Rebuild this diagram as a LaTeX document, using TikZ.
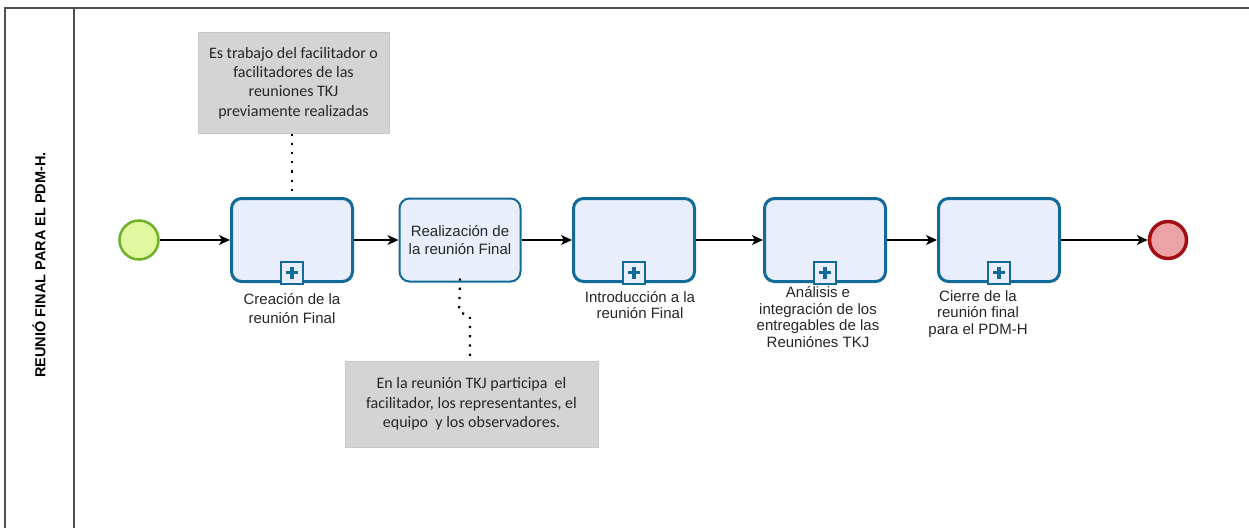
\documentclass[tikz,border=0pt]{standalone}
\usepackage{fontspec}
\setmainfont{Liberation Sans}
\newfontfamily\annfont{Carlito}
\usetikzlibrary{arrows.meta}
\definecolor{taskborder}{HTML}{126A98}
\definecolor{taskfill}{HTML}{E9EEFC}
\definecolor{startborder}{HTML}{6FB024}
\definecolor{startfill}{HTML}{E1F7A0}
\definecolor{endborder}{HTML}{A30E12}
\definecolor{endfill}{HTML}{EBA3A6}
\definecolor{annfill}{HTML}{D4D4D4}
\definecolor{annborder}{HTML}{C8C8C8}
\definecolor{poolline}{HTML}{505050}
\tikzset{
  taskbox/.style={draw=taskborder, fill=taskfill, line width=3pt, rounded corners=10pt,
    minimum width=121pt, minimum height=83pt, inner sep=0pt, align=center,
    font=\fontsize{15}{18.5}\selectfont, text=black!85},
  taskthin/.style={taskbox, line width=2pt},
  marker/.style={draw=taskborder, fill=taskfill, line width=2pt, minimum width=22pt, minimum height=22pt, inner sep=0pt},
  lbl/.style={align=center, inner sep=0pt, font=\fontsize{15}{16.5}\selectfont, text=black!85},
  annbox/.style={draw=annborder, fill=annfill, line width=1pt, inner sep=0pt, align=center,
    font=\annfont\fontsize{16}{19.3}\selectfont, text=black!85},
  startev/.style={circle, draw=startborder, fill=startfill, line width=2.5pt, minimum size=39pt, inner sep=0pt},
  endev/.style={circle, draw=endborder, fill=endfill, line width=3.5pt, minimum size=37pt, inner sep=0pt},
  flow/.style={line width=1.3pt, -{Stealth[length=11pt,width=10pt,inset=3pt]}},
  assoc/.style={line width=2.2pt, dash pattern=on 2.2pt off 7pt},
}
\newcommand{\plusmark}[1]{%
  \draw[taskborder, line width=3.2pt] ([xshift=-6pt]#1.center) -- ([xshift=6pt]#1.center);
  \draw[taskborder, line width=3.2pt] ([yshift=-6pt]#1.center) -- ([yshift=6pt]#1.center);}
\begin{document}
\begin{tikzpicture}[x=1pt, y=-1pt]
\useasboundingbox (0,0) rectangle (1249,527);
% pool
\draw[poolline, line width=1.5pt] (5,540) -- (5,8) -- (1260,8);
\draw[poolline, line width=1.5pt] (74,8) -- (74,540);
\node[rotate=90, font=\bfseries\fontsize{14.5}{16}\selectfont, inner sep=0pt] (lane) at (39,265) {REUNIÓ FINAL PARA EL PDM-H.};
% events
\node[startev] (start) at (139,240) {};
\node[endev] (end) at (1168,240) {};
% tasks
\node[taskbox] (t1) at (292,240) {};
\node[taskthin] (t2) at (460,240) {Realización de\\la reunión Final};
\node[taskbox] (t3) at (634,240) {};
\node[taskbox] (t4) at (825,240) {};
\node[taskbox] (t5) at (999,240) {};
% markers
\foreach \t in {t1,t3,t4,t5}{
  \node[marker, anchor=south] (m\t) at ([yshift=-1.5pt]\t.south) {};
  \plusmark{m\t}
}
% labels
\node[lbl, font=\fontsize{15}{19}\selectfont] (l1) at (292,309) {Creación de la\\reunión Final};
\node[lbl] (l3) at (640,305) {Introducción a la\\reunión Final};
\node[lbl] (l4) at (818,317) {Análisis e\\integración de los\\entregables de las\\Reuniónes TKJ};
\node[lbl] (l5) at (978,314) {Cierre de la\\reunión final\\para el PDM-H};
% annotations
\node[annbox, minimum width=191pt, minimum height=100pt] (a1) at (293.5,83) {Es trabajo del facilitador o\\facilitadores de las\\reuniones TKJ\\previamente realizadas};
\node[annbox, minimum width=253pt, minimum height=86pt] (a2) at (471.5,404) {En la reunión TKJ participa\ \ el\\facilitador, los representantes, el\\equipo\ \ y los observadores.};
% flows
\draw[flow] (start) -- (t1);
\draw[flow] (t1) -- (t2);
\draw[flow] (t2) -- (t3);
\draw[flow] (t3) -- (t4);
\draw[flow] (t4) -- (t5);
\draw[flow] (t5) -- (end);
% associations
\draw[assoc] (a1.south -| t1.north) -- (t1.north);
\coordinate (j1) at (459,312);
\coordinate (j2) at (470,316);
\draw[assoc] ([yshift=4pt]t2.south) -- (j1) -- (j2) -- (j2 |- a2.north);
\end{tikzpicture}
\end{document}
